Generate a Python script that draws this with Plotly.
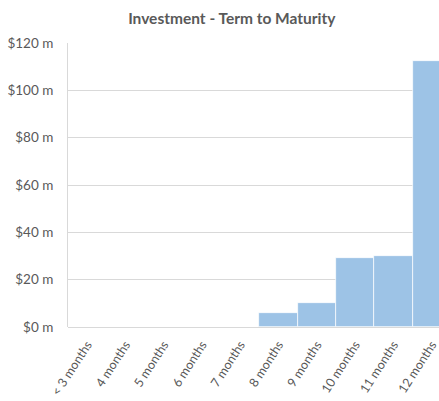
import plotly.graph_objects as go

categories = ["< 3 months", "4 months", "5 months", "6 months", "7 months",
              "8 months", "9 months", "10 months", "11 months", "12 months"]
values = [0, 0, 0, 0, 0, 6, 10, 29, 30, 112.5]
y_tick_vals = [0, 20, 40, 60, 80, 100, 120]
y_tick_text = ["$0 m", "$20 m", "$40 m", "$60 m", "$80 m", "$100 m", "$120 m"]

fig = go.Figure(go.Bar(
    x=list(range(len(categories))), y=values,
    marker=dict(color="#9DC3E6", line=dict(color="white", width=0.7)),
))

fig.update_layout(
    width=439, height=401,
    margin=dict(l=68, r=0, t=43, b=74, autoexpand=False),
    paper_bgcolor="white", plot_bgcolor="white",
    bargap=0,
    showlegend=False,
    font=dict(family="Lato, Open Sans, sans-serif", color="#595959", size=13),
    title=dict(text="<b>Investment - Term to Maturity</b>", x=0.528, xanchor="center",
               y=0.953, yanchor="middle",
               font=dict(size=15.5, color="#595959", family="Lato, Open Sans, sans-serif")),
)
fig.update_xaxes(
    tickmode="array", tickvals=list(range(len(categories))), ticktext=categories,
    range=[-0.5, 9.19], tickangle=-57, showgrid=False, ticks="",
    tickfont=dict(size=12.5, color="#595959"), zeroline=False, showline=False,
    automargin=False, ticklabeloverflow="allow", ticklabelstandoff=7,
)
fig.update_yaxes(
    range=[0, 120], tickvals=y_tick_vals, ticktext=y_tick_text,
    showgrid=True, gridcolor="#D9D9D9", gridwidth=1,
    showline=True, linecolor="#D9D9D9", linewidth=1,
    zeroline=True, zerolinecolor="#D9D9D9", zerolinewidth=1,
    ticks="", ticklabelstandoff=11, automargin=False,
    tickfont=dict(size=13.5, color="#595959"),
)

fig.write_html(
    "out.html",
    config={"displayModeBar": False},
    post_script="document.body.style.margin='0';document.body.style.overflow='hidden';",
)
